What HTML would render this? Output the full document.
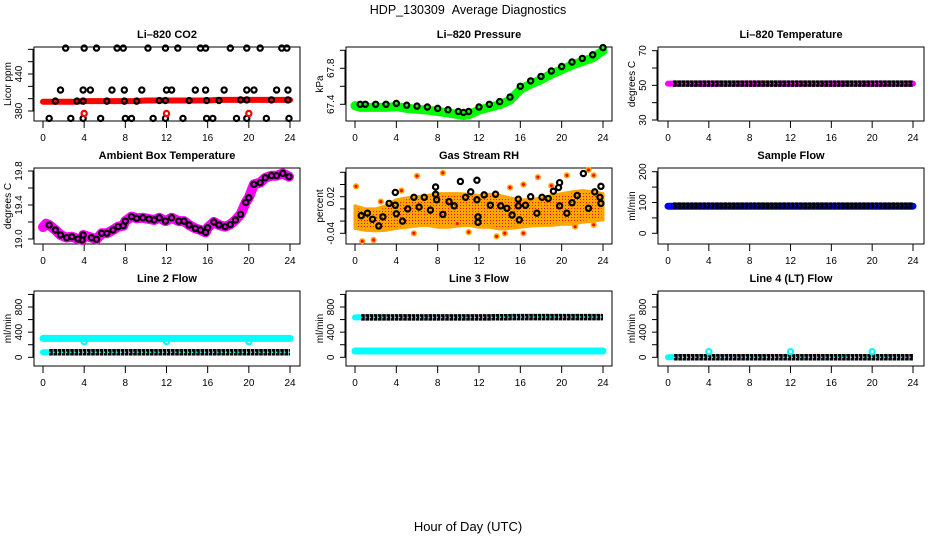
<!DOCTYPE html>
<html><head><meta charset="utf-8"><style>
html,body{margin:0;padding:0;background:#fff;}
svg{display:block;font-family:"Liberation Sans",Arial,sans-serif;}
</style></head><body>
<svg id="chart" width="936" height="540" viewBox="0 0 936 540" xmlns="http://www.w3.org/2000/svg">
<defs>
<pattern id="rhdots" width="3" height="3" patternUnits="userSpaceOnUse"><rect width="3" height="3" fill="#FFA500"/><rect x="1" y="1" width="1" height="1" fill="#FF0000"/></pattern>
</defs>
<text x="468" y="14" text-anchor="middle" font-size="12.5">HDP_130309 &#160;Average Diagnostics</text>
<text x="468" y="531" text-anchor="middle" font-size="13">Hour of Day (UTC)</text>
</svg>
<script>
// ---- data ----
const xTicks = [0,4,8,12,16,20,24];
// CO2
const co2BandHours = [0,1,2,3,4,5,6,7,8,9,10,11,12,13,14,15,16,17,18,19,20,21,22,23,24];
const co2BandVals = [395,395,395,395,396,396,396,396,396,396,397,397,397,397,397,397,397,398,398,398,398,398,398,398,398];
const co2PtHours = [2.2,4.0,5.2,7.2,7.8,10.2,11.9,13.1,15.3,15.8,18.2,19.8,21.1,23.2,23.7,
 1.7,3.9,4.6,6.7,7.9,9.6,12.0,12.5,14.8,15.8,17.6,19.8,20.5,22.7,23.8,
 1.2,3.3,3.9,6.2,7.9,9.1,11.3,11.9,14.2,15.9,17.1,19.2,19.8,22.2,23.8,
 0.6,2.7,3.9,5.6,8.0,8.6,10.7,11.9,13.6,15.9,16.5,18.8,19.8,21.7,23.9];
const co2PtVals = [482,482,482,482,482,482,482,482,482,482,482,482,482,482,482,
 414,414,414,414,414,414,414,414,414,414,414,414,414,414,414,
 396,396,396,396,396,396,397,397,397,397,397,398,398,398,398,
 368,368,368,368,368,368,368,368,368,368,368,368,368,368,368];
const co2RedHours = [4,12,20];
const co2RedVals = [376,376,376];
// Pressure
const presHours = [0,0.5,1,2,3,4,5,6,7,8,9,10,10.5,11,12,13,14,15,16,17,18,19,20,21,22,23,24];
const presVals = [67.42,67.40,67.40,67.40,67.40,67.41,67.39,67.38,67.37,67.355,67.34,67.32,67.31,67.32,67.37,67.40,67.43,67.48,67.60,67.66,67.71,67.77,67.82,67.87,67.91,67.95,68.03];
// Li-820 temperature
const tempHours = [0,2,4,6,8,10,12,14,16,18,20,22,24];
const tempVals = [51,51,51,51,51,51,51,51,51,51,51,51,51];
// Ambient box temperature
const ambHours = [0,0.3,0.6,1.2,1.7,2.3,2.8,3.4,3.8,3.9,4.7,5.2,5.7,6.2,6.8,7.3,7.8,8.0,8.6,9.1,9.7,10.3,10.8,11.3,11.9,12.5,13.2,13.7,14.2,14.8,15.3,15.8,16.0,16.6,17.1,17.7,18.2,18.7,19.2,19.7,20.0,20.5,21.1,21.6,22.2,22.7,23.3,23.9];
const ambVals = [19.14,19.18,19.165,19.106,19.047,19.016,19.027,19.0,18.988,19.047,19.016,18.996,19.067,19.067,19.106,19.145,19.157,19.21,19.263,19.243,19.25,19.235,19.224,19.25,19.21,19.25,19.21,19.21,19.165,19.125,19.106,19.078,19.133,19.2,19.165,19.145,19.17,19.224,19.29,19.43,19.486,19.643,19.663,19.72,19.745,19.745,19.772,19.733];
// Gas stream RH
const rhBandHours = [0,1,2,3,4,5,6,7,8,9,10,11,12,13,14,15,16,17,18,19,20,21,22,23,24];
const rhLow = [-0.032,-0.035,-0.036,-0.035,-0.032,-0.030,-0.028,-0.027,-0.030,-0.030,-0.028,-0.027,-0.030,-0.030,-0.033,-0.032,-0.030,-0.028,-0.027,-0.027,-0.025,-0.025,-0.022,-0.020,-0.018];
const rhHigh = [0.005,0.0,0.0,0.005,0.015,0.018,0.020,0.022,0.025,0.025,0.025,0.024,0.022,0.024,0.022,0.018,0.015,0.015,0.018,0.022,0.025,0.028,0.030,0.028,0.025];
const rhOutHours = [0.1,6.0,8.5,5.7,0.7,1.8,17.7,22.6,23.1,21.3,23.1,13.7,16.3,9.9,20.5,15.0,16.3,2.5,11.0,19.0,4.5,14.5];
const rhOutVals = [0.037,0.054,0.059,-0.040,-0.053,-0.051,0.052,0.064,0.055,-0.029,-0.026,-0.045,-0.040,-0.024,0.055,0.035,0.040,0.012,-0.038,0.038,0.030,-0.040];
const rhPtHours = [0.6,1.2,1.7,2.3,2.7,3.3,3.9,3.9,4.0,4.6,5.1,5.7,6.2,6.7,7.3,7.8,7.8,7.9,8.5,9.1,9.6,10.2,10.7,11.2,11.8,11.8,11.9,11.9,12.5,13.1,13.6,14.1,14.7,15.2,15.8,15.8,15.9,16.5,17.0,17.6,18.1,18.7,19.2,19.7,19.8,19.8,20.5,21.0,21.5,22.1,22.6,23.2,23.7,23.8,23.8];
const rhPtVals = [-0.011,-0.007,-0.017,-0.028,-0.013,0.009,0.027,0.006,-0.008,-0.020,0.0,0.019,0.003,0.019,-0.002,0.036,0.024,0.015,-0.009,0.012,0.005,0.045,0.019,0.028,0.047,0.015,-0.013,-0.022,0.023,0.006,0.024,0.005,0.001,-0.010,0.016,0.005,-0.018,0.006,0.020,-0.007,0.019,0.017,0.029,0.035,0.043,0.005,-0.007,0.010,0.022,0.058,0.001,0.028,0.019,0.037,0.009];
// Sample flow
const sfHours = [0,4,8,12,16,20,24];
const sfVals = [88,88,88,88,88,88,88];
const sfBlackVals = [90,90,90,90,90,90,90];
// Line 2
const l2Hours = [0,4,8,12,16,20,24];
const l2Cyan = [300,300,300,300,300,300,300];
const l2Black = [80,80,80,80,80,80,80];
const l2DipHours = [4,12,20];
const l2DipVals = [250,250,250];
// Line 3
const l3Hours = [0,4,8,12,16,20,24];
const l3Cyan = [100,100,100,100,100,100,100];
const l3Black = [635,635,635,635,640,640,640];
// Line 4
const l4Hours = [0,4,8,12,16,20,24];
const l4Black = [0,0,0,0,0,0,0];
const l4RingHours = [4,12,20];
const l4RingVals = [90,90,90];

// ---- drawing ----
const NS = 'http://www.w3.org/2000/svg';
const svg = document.getElementById('chart');
function mk(tag, attrs, parent){
  const e = document.createElementNS(NS, tag);
  for (const k in attrs) e.setAttribute(k, attrs[k]);
  parent.appendChild(e);
  return e;
}
function linY(v1,p1,v2,p2){ return v => p1 + (v - v1) * (p2 - p1) / (v2 - v1); }
function linX(x0,x24){ return h => x0 + h * (x24 - x0) / 24; }

function frame(P){
  const g = mk('g', {}, svg);
  
  
  const box = mk('rect', {x:P.left, y:P.top, width:P.right-P.left, height:P.bottom-P.top, fill:'none', stroke:'#000', 'stroke-width':1}, g);
  
  
  const t = mk('text', {x:(P.left+P.right)/2, y:P.top-9, 'text-anchor':'middle', 'font-size':11, 'font-weight':'bold'}, g);
  t.textContent = P.title;
  
  
  xTicks.forEach(h => {
    const x = P.X(h);
    const tk = mk('line', {x1:x, x2:x, y1:P.bottom, y2:P.bottom+7, stroke:'#000'}, g);
    
    
    const lb = mk('text', {x:x, y:P.bottom+20, 'text-anchor':'middle', 'font-size':10}, g);
    lb.textContent = h;
    
    
  });
  P.yTicks.forEach(v => {
    const y = P.Y(v);
    const tk = mk('line', {x1:P.left-6, x2:P.left, y1:y, y2:y, stroke:'#000'}, g);
    
    
  });
  const ya = mk('line', {x1:P.left-1, x2:P.left-1, y1:P.Y(P.yTicks[0]), y2:P.Y(P.yTicks[P.yTicks.length-1]), stroke:'#000'}, g);
  
  
  P.yLabels.forEach((s, i) => {
    const y = P.Y(P.yLabelVals[i]);
    const lb = mk('text', {x:0, y:0, transform:`translate(${P.left-12},${y}) rotate(-90)`, 'text-anchor':'middle', 'font-size':10}, g);
    lb.textContent = s;
    
    
  });
  const yl = mk('text', {x:0, y:0, transform:`translate(${P.left-23},${(P.top+P.bottom)/2}) rotate(-90)`, 'text-anchor':'middle', 'font-size':10}, g);
  yl.textContent = P.ylabel;
  
  
  return g;
}
function pts(P, hs, vs){ return hs.map((h,i)=>P.X(h).toFixed(1)+','+P.Y(vs[i]).toFixed(1)).join(' '); }
function band(g, P, hs, vs, color, w, name){
  const l = mk('polyline', {points:pts(P,hs,vs), fill:'none', stroke:color, 'stroke-width':w, 'stroke-linejoin':'round', 'stroke-linecap':'round'}, g);
  
  
}
function rings(g, P, hs, vs, color, name){
  hs.forEach((h,i)=>{
    const c = mk('circle', {cx:P.X(h), cy:P.Y(vs[i]), r:2.6, fill:'none', stroke:color, 'stroke-width':2.2}, g);
    
    
  });
}
function denseRings(g, P, hs, vs, inner, name){
  const a = mk('polyline', {points:pts(P,hs,vs), fill:'none', stroke:'#000', 'stroke-width':6.5, 'stroke-dasharray':'3.6 0.6'}, g);
  
  
  const b = mk('polyline', {points:pts(P,hs,vs), fill:'none', stroke:inner, 'stroke-width':1.4, 'stroke-dasharray':'1.2 3.0'}, g);
  
  
}
function sub(hs, lo, hi){ return hs.map(h=>Math.min(hi, Math.max(lo, h))); }

const COL = [{l:34,r:300,x0:43,x24:290},{l:346,r:612,x0:355,x24:603},{l:658,r:924,x0:668,x24:913}];
const ROW = [{t:47,b:121},{t:168,b:244},{t:291,b:366}];
function mkP(ci, ri, extra){
  const c = COL[ci], r = ROW[ri];
  return Object.assign({left:c.l, right:c.r, top:r.t, bottom:r.b, X:linX(c.x0,c.x24)}, extra);
}

// CO2
let P = mkP(0,0,{name:'co2', title:'Li\u2013820 CO2', ylabel:'Licor ppm', Y:linY(380,111,440,74), yTicks:[380,400,420,440,460,480], yLabels:['380','440'], yLabelVals:[380,440]});
let g = frame(P);
band(g,P,co2BandHours,co2BandVals,'#FF0000',6,'co2-red-series');
rings(g,P,co2PtHours,co2PtVals,'#000','co2-point');
rings(g,P,co2RedHours,co2RedVals,'#FF0000','co2-red-point');

// Pressure
P = mkP(1,0,{name:'pressure', title:'Li\u2013820 Pressure', ylabel:'kPa', Y:linY(67.4,104.3,67.8,68.3), yTicks:[67.4,67.6,67.8,68.0], yLabels:['67.4','67.8'], yLabelVals:[67.4,67.8]});
g = frame(P);
band(g,P,presHours,presVals.map(v=>v-0.035),'#00FF00',9,'pressure-green-series');
rings(g,P,presHours.slice(1),presVals.slice(1),'#000','pressure-point');

// Li-820 temperature
P = mkP(2,0,{name:'li820-temp', title:'Li\u2013820 Temperature', ylabel:'degrees C', Y:linY(30,120,70,50.7), yTicks:[30,40,50,60,70], yLabels:['30','50','70'], yLabelVals:[30,50,70]});
g = frame(P);
band(g,P,tempHours,tempVals,'#FF00FF',6,'li820-temp-magenta-series');
denseRings(g,P,sub(tempHours,0.5,24),tempVals,'#FF00FF','li820-temp-black-series');

// Ambient
P = mkP(0,1,{name:'ambient-temp', title:'Ambient Box Temperature', ylabel:'degrees C', Y:linY(19.0,239,19.8,171), yTicks:[19.0,19.2,19.4,19.6,19.8], yLabels:['19.0','19.4','19.8'], yLabelVals:[19.0,19.4,19.8]});
g = frame(P);
band(g,P,ambHours,ambVals,'#FF00FF',10,'ambient-magenta-series');
rings(g,P,ambHours.slice(2),ambVals.slice(2),'#000','ambient-point');

// RH
P = mkP(1,1,{name:'rh', title:'Gas Stream RH', ylabel:'percent', Y:linY(0.02,196.7,-0.04,233.3), yTicks:[-0.04,-0.02,0,0.02,0.04,0.06], yLabels:['-0.04','0.02'], yLabelVals:[-0.04,0.02]});
g = frame(P);
{
  const top = rhBandHours.map((h,i)=>P.X(h).toFixed(1)+','+P.Y(rhHigh[i]).toFixed(1));
  const bot = rhBandHours.map((h,i)=>P.X(h).toFixed(1)+','+P.Y(rhLow[i]).toFixed(1)).reverse();
  const poly = mk('polygon', {points:top.concat(bot).join(' '), fill:'url(#rhdots)', stroke:'#FFA500', 'stroke-width':3, 'stroke-linejoin':'round'}, g);
  
  
}
rhOutHours.forEach((h,i)=>{
  const c = mk('circle', {cx:P.X(h), cy:P.Y(rhOutVals[i]), r:2.3, fill:'#FF0000', stroke:'#FFA500', 'stroke-width':1.6}, g);
  
  
});
rings(g,P,rhPtHours,rhPtVals,'#000','rh-point');

// Sample flow
P = mkP(2,1,{name:'sample-flow', title:'Sample Flow', ylabel:'ml/min', Y:linY(0,233.3,200,171.7), yTicks:[0,50,100,150,200], yLabels:['0','100','200'], yLabelVals:[0,100,200]});
g = frame(P);
band(g,P,sfHours,sfVals,'#0000FF',7,'sample-flow-blue-series');
denseRings(g,P,sub(sfHours,0.5,24),sfBlackVals,'#0000FF','sample-flow-black-series');

// Line 2
const lineTicks = [0,200,400,600,800,1000];
P = mkP(0,2,{name:'line2-flow', title:'Line 2 Flow', ylabel:'ml/min', Y:linY(0,357.3,800,307), yTicks:lineTicks, yLabels:['0','400','800'], yLabelVals:[0,400,800]});
g = frame(P);
band(g,P,l2Hours,l2Cyan,'#00FFFF',7,'line2-cyan-series');
band(g,P,sub(l2Hours,0,0.4),l2Black,'#00FFFF',6,'line2-cyan-start');
rings(g,P,l2DipHours,l2DipVals,'#00FFFF','line2-cyan-dip');
denseRings(g,P,sub(l2Hours,0.6,24),l2Black,'#00FFFF','line2-black-series');

// Line 3
P = mkP(1,2,{name:'line3-flow', title:'Line 3 Flow', ylabel:'ml/min', Y:linY(0,357.3,800,307), yTicks:lineTicks, yLabels:['0','400','800'], yLabelVals:[0,400,800]});
g = frame(P);
band(g,P,l3Hours,l3Cyan,'#00FFFF',7,'line3-cyan-series');
band(g,P,sub(l3Hours,0,0.4),l3Black,'#00FFFF',6,'line3-cyan-start');
denseRings(g,P,sub(l3Hours,0.6,24),l3Black,'#00FFFF','line3-black-series');

// Line 4
P = mkP(2,2,{name:'line4-flow', title:'Line 4 (LT) Flow', ylabel:'ml/min', Y:linY(0,357.3,800,307), yTicks:lineTicks, yLabels:['0','400','800'], yLabelVals:[0,400,800]});
g = frame(P);
band(g,P,sub(l4Hours,0,0.5),l4Black,'#00FFFF',6,'line4-cyan-start');
denseRings(g,P,sub(l4Hours,0.6,24),l4Black,'#00FFFF','line4-black-series');
rings(g,P,l4RingHours,l4RingVals,'#00FFFF','line4-cyan-point');
</script>
</body></html>
